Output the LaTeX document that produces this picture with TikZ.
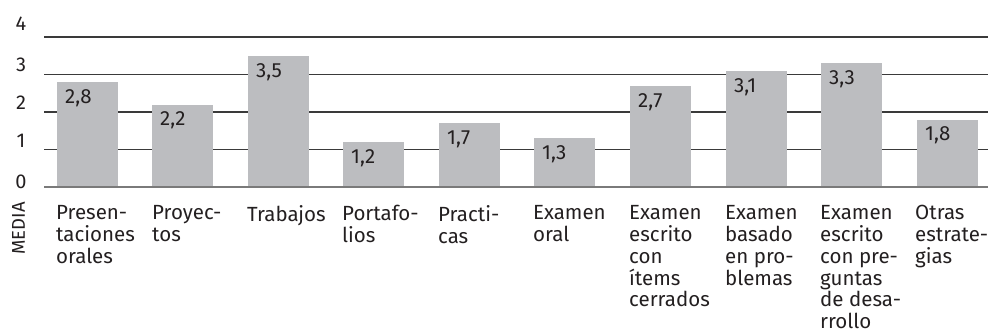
\documentclass[tikz,border=0pt]{standalone}
\usepackage{fontspec}
\setmainfont{Fira Sans}
\definecolor{bargray}{HTML}{BCBDC0}
\definecolor{gridc}{HTML}{3A3A3A}
\definecolor{basec}{HTML}{7A7A7A}
\definecolor{txt}{HTML}{231F20}
\begin{document}
\begin{tikzpicture}[x=1pt,y=-1pt,
  bigfont/.style={font=\fontsize{20.5}{21.9}\selectfont, text=txt},
  grid/.style={draw=gridc, line width=1.1pt},
  baseline0/.style={draw=basec, line width=1.6pt},
  bar/.style={fill=bargray, draw=none},
  val/.style={bigfont, anchor=north west, inner sep=0pt},
  cat/.style={bigfont, anchor=north west, inner sep=0pt, align=left},
  tick/.style={font=\fontsize{20}{22}\selectfont, text=txt, anchor=center, inner sep=0pt}]
\useasboundingbox (0,0) rectangle (988,334);
% grid lines
\foreach \v/\yy in {1/149.5,2/112,3/74.5,4/37}{
  \coordinate (gl\v) at (44,\yy);
  \coordinate (gr\v) at (988,\yy);
  \draw[grid] (gl\v) -- (gr\v);
}
% tick labels
\node[tick] (t0) at (21,182) {0};
\node[tick] (t1) at (21,141) {1};
\node[tick] (t2) at (21,103) {2};
\node[tick] (t3) at (21,64.5) {3};
\node[tick] (t4) at (21,23.5) {4};
\node[font=\fontsize{18.5}{20}\selectfont, text=txt, rotate=90, inner sep=0pt] (media) at (18.5,228.5) {MEDIA};
% bars
\foreach \i/\x/\v/\lab in {1/57/2.8/{2,8},2/152/2.2/{2,2},3/248/3.5/{3,5},4/343/1.2/{1,2},5/439/1.7/{1,7},6/534/1.3/{1,3},7/630/2.7/{2,7},8/726/3.1/{3,1},9/821/3.3/{3,3},10/917/1.8/{1,8}}{
  \pgfmathsetmacro{\top}{187-37.45*\v}
  \fill[bar] (\x,187) rectangle (\x+61,\top);
  \node[val] (v\i) at (\x+8,\top+7) {\lab};
}
% zero line
\coordinate (z0) at (44,187);
\coordinate (z1) at (988,187);
\draw[baseline0] (z0) -- (z1);
% category labels
\node[cat] (c1) at (56,205) {Presen-\\taciones\\orales};
\node[cat] (c2) at (152,205) {Proyec-\\tos};
\node[cat] (c3) at (247,205) {Trabajos};
\node[cat] (c4) at (342,205) {Portafo-\\lios};
\node[cat] (c5) at (438,205) {Practi-\\cas};
\node[cat] (c6) at (533,205) {Examen\\oral};
\node[cat] (c7) at (629,205) {Examen\\escrito\\con\\ítems\\cerrados};
\node[cat] (c8) at (725,205) {Examen\\basado\\en pro-\\blemas};
\node[cat] (c9) at (820,205) {Examen\\escrito\\con pre-\\guntas\\de desa-\\rrollo};
\node[cat] (c10) at (915,205) {Otras\\estrate-\\gias};
\end{tikzpicture}
\end{document}
